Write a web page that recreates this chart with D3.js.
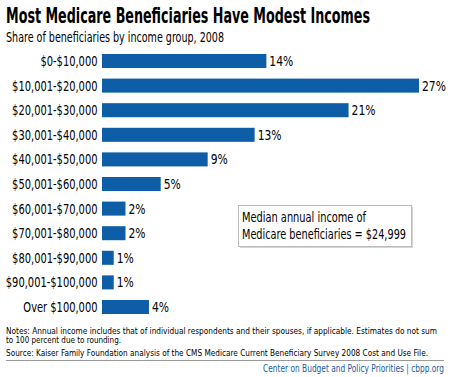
<!DOCTYPE html>
<html>
<head>
<meta charset="utf-8">
<script src="https://cdn.jsdelivr.net/npm/d3@7"></script>
<style>
  body { margin: 0; background: #fff; }
  text { font-family: "DejaVu Sans Condensed", "Liberation Sans Narrow", sans-serif; }
</style>
</head>
<body>
<div id="chart"></div>
<script>
const groups = ["$0-$10,000", "$10,001-$20,000", "$20,001-$30,000", "$30,001-$40,000",
  "$40,001-$50,000", "$50,001-$60,000", "$60,001-$70,000", "$70,001-$80,000",
  "$80,001-$90,000", "$90,001-$100,000", "Over $100,000"];
const shares = [14, 27, 21, 13, 9, 5, 2, 2, 1, 1, 4];

const width = 450, height = 377;
const blue = "#0d5ea6";

const svg = d3.select("#chart").append("svg")
  .attr("width", width)
  .attr("height", height);

// squeeze a text horizontally so it fits the width seen in the original
function fit(sel, w) {
  sel.attr("textLength", w).attr("lengthAdjust", "spacingAndGlyphs");
  return sel;
}
// same squeeze factor for a group of texts, anchored at their x
function squeezeAll(sel, refText, refWidth) {
  const nodes = sel.nodes();
  const ref = nodes.find(n => n.textContent === refText);
  const k = refWidth / ref.getComputedTextLength();
  sel.each(function() {
    const t = d3.select(this);
    const x0 = +t.attr("x"), y0 = +t.attr("y");
    t.attr("x", 0).attr("y", 0).attr("transform", `translate(${x0},${y0}) scale(${k},1)`);
  });
}

const x = d3.scaleLinear().domain([0, 27]).range([102, 419]);
const y = d3.scaleBand().domain(groups).range([48.7, 319.3]).paddingInner(0.43).paddingOuter(0.215);

fit(svg.append("text")
  .attr("x", 6).attr("y", 23)
  .attr("font-size", 21).attr("font-weight", "bold")
  .text("Most Medicare Beneficiaries Have Modest Incomes"), 364);

fit(svg.append("text")
  .attr("x", 6).attr("y", 42)
  .attr("font-size", 14)
  .text("Share of beneficiaries by income group, 2008"), 218);

svg.append("g")
  .selectAll("rect")
  .data(shares)
  .join("rect")
  .attr("x", x(0))
  .attr("y", (d, i) => y(groups[i]))
  .attr("width", d => x(d) - x(0))
  .attr("height", y.bandwidth())
  .attr("fill", blue);

const catLabels = svg.append("g")
  .attr("font-size", 14)
  .attr("text-anchor", "end")
  .selectAll("text")
  .data(groups)
  .join("text")
  .attr("x", 97.5)
  .attr("y", d => y(d) + y.bandwidth() / 2 + 5)
  .text(d => d);
squeezeAll(catLabels, "$10,001-$20,000", 85.5);

const valLabels = svg.append("g")
  .attr("font-size", 14)
  .selectAll("text")
  .data(shares)
  .join("text")
  .attr("x", d => x(d) + 3)
  .attr("y", (d, i) => y(groups[i]) + y.bandwidth() / 2 + 5)
  .text(d => d + "%");
squeezeAll(valLabels, "27%", 24);

// median box
const box = svg.append("g");
box.append("rect")
  .attr("x", 240).attr("y", 207).attr("width", 173).attr("height", 41)
  .attr("fill", "#888").attr("opacity", 0.35);
box.append("rect")
  .attr("x", 238.5).attr("y", 205.5).attr("width", 173).attr("height", 41)
  .attr("fill", "#fff").attr("stroke", "#bbb");
fit(box.append("text")
  .attr("x", 242).attr("y", 222).attr("font-size", 14)
  .text("Median annual income of"), 124);
fit(box.append("text")
  .attr("x", 242).attr("y", 239).attr("font-size", 14)
  .text("Medicare beneficiaries = $24,999"), 164);

const notes = svg.append("g").attr("font-size", 9);
fit(notes.append("text").attr("x", 6).attr("y", 333.5)
  .text("Notes: Annual income includes that of individual respondents and their spouses, if applicable. Estimates do not sum"), 431);
fit(notes.append("text").attr("x", 6).attr("y", 343)
  .text("to 100 percent due to rounding."), 115);
fit(notes.append("text").attr("x", 6).attr("y", 356)
  .text("Source: Kaiser Family Foundation analysis of the CMS Medicare Current Beneficiary Survey 2008 Cost and Use File."), 422);

svg.append("line")
  .attr("x1", 6).attr("x2", 444).attr("y1", 360.5).attr("y2", 360.5)
  .attr("stroke", "#999");

fit(svg.append("text")
  .attr("x", 263).attr("y", 371.5)
  .attr("font-size", 10)
  .attr("fill", "#1a5aa0")
  .text("Center on Budget and Policy Priorities | cbpp.org"), 181);
</script>
</body>
</html>
